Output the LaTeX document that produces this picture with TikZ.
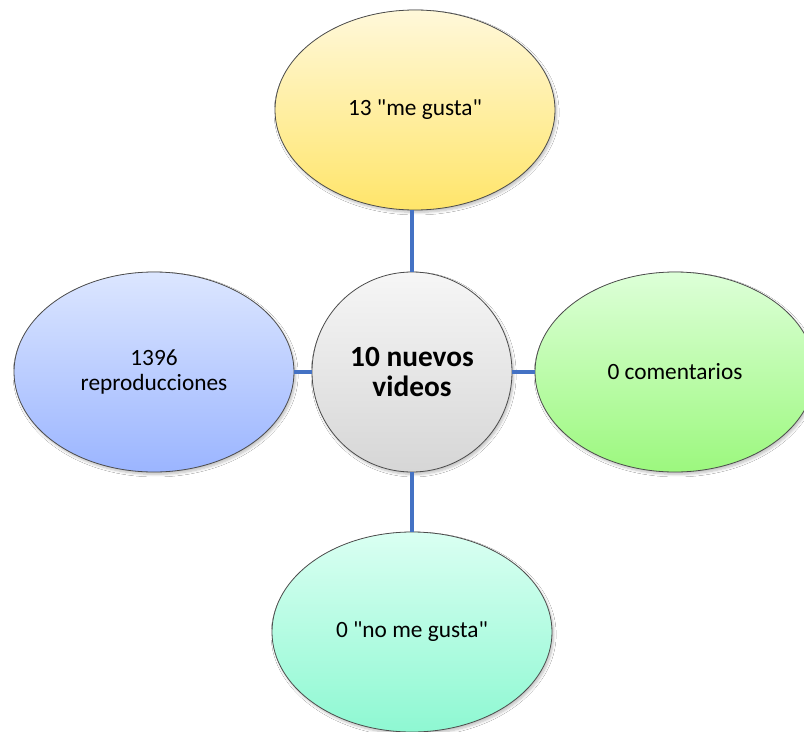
\documentclass[tikz,border=0pt]{standalone}
\usepackage{fontspec}
\setmainfont{Carlito}[Ligatures=TeXOff]
\usetikzlibrary{shapes.geometric,shadows.blur}
\definecolor{linkblue}{HTML}{4472C4}
\definecolor{ytop}{HTML}{FFF8DA}\definecolor{ybot}{HTML}{FFE56A}
\definecolor{btop}{HTML}{DCE6FF}\definecolor{bbot}{HTML}{9BB5FF}
\definecolor{gtop}{HTML}{DDFFD8}\definecolor{gbot}{HTML}{9CF87E}
\definecolor{ttop}{HTML}{DAFFF2}\definecolor{tbot}{HTML}{8EF8D2}
\definecolor{ctop}{HTML}{F6F6F6}\definecolor{cbot}{HTML}{D6D6D6}
\tikzset{
  softshadow/.style={blur shadow={shadow xshift=1.2pt, shadow yshift=-1.8pt, shadow blur steps=6, shadow opacity=25}},
  bubble/.style={ellipse, draw=black!70, line width=0.6pt,
    minimum width=210pt, minimum height=150pt, inner sep=0pt,
    align=center, font=\fontsize{17.5}{19}\selectfont, softshadow},
  hub/.style={circle, draw=black!70, line width=0.6pt,
    minimum size=150pt, inner sep=0pt, align=center,
    font=\bfseries\fontsize{22}{23}\selectfont,
    top color=ctop, bottom color=cbot, softshadow},
  link/.style={draw=linkblue, line width=3pt}
}
\begin{document}
\begin{tikzpicture}[x=0.75pt,y=-0.75pt]
\useasboundingbox (0,0) rectangle (804,732);
\fill[white] (0,0) rectangle (804,732);
\node[hub] (c) at (412,372) {10 nuevos\\videos};
\node[bubble, top color=ytop, bottom color=ybot] (t) at (415,110) {13 "me gusta"};
\node[bubble, top color=btop, bottom color=bbot] (l) at (154,372) {1396\\reproducciones};
\node[bubble, top color=gtop, bottom color=gbot] (r) at (675,372) {0 comentarios};
\node[bubble, top color=ttop, bottom color=tbot] (b) at (412,632) {0 "no me gusta"};
\draw[link] (t.south -| c.north) -- (c.north);
\draw[link] (l.east |- c.west) -- (c.west);
\draw[link] (c.east) -- (r.west |- c.east);
\draw[link] (c.south) -- (b.north -| c.south);
\end{tikzpicture}
\end{document}
